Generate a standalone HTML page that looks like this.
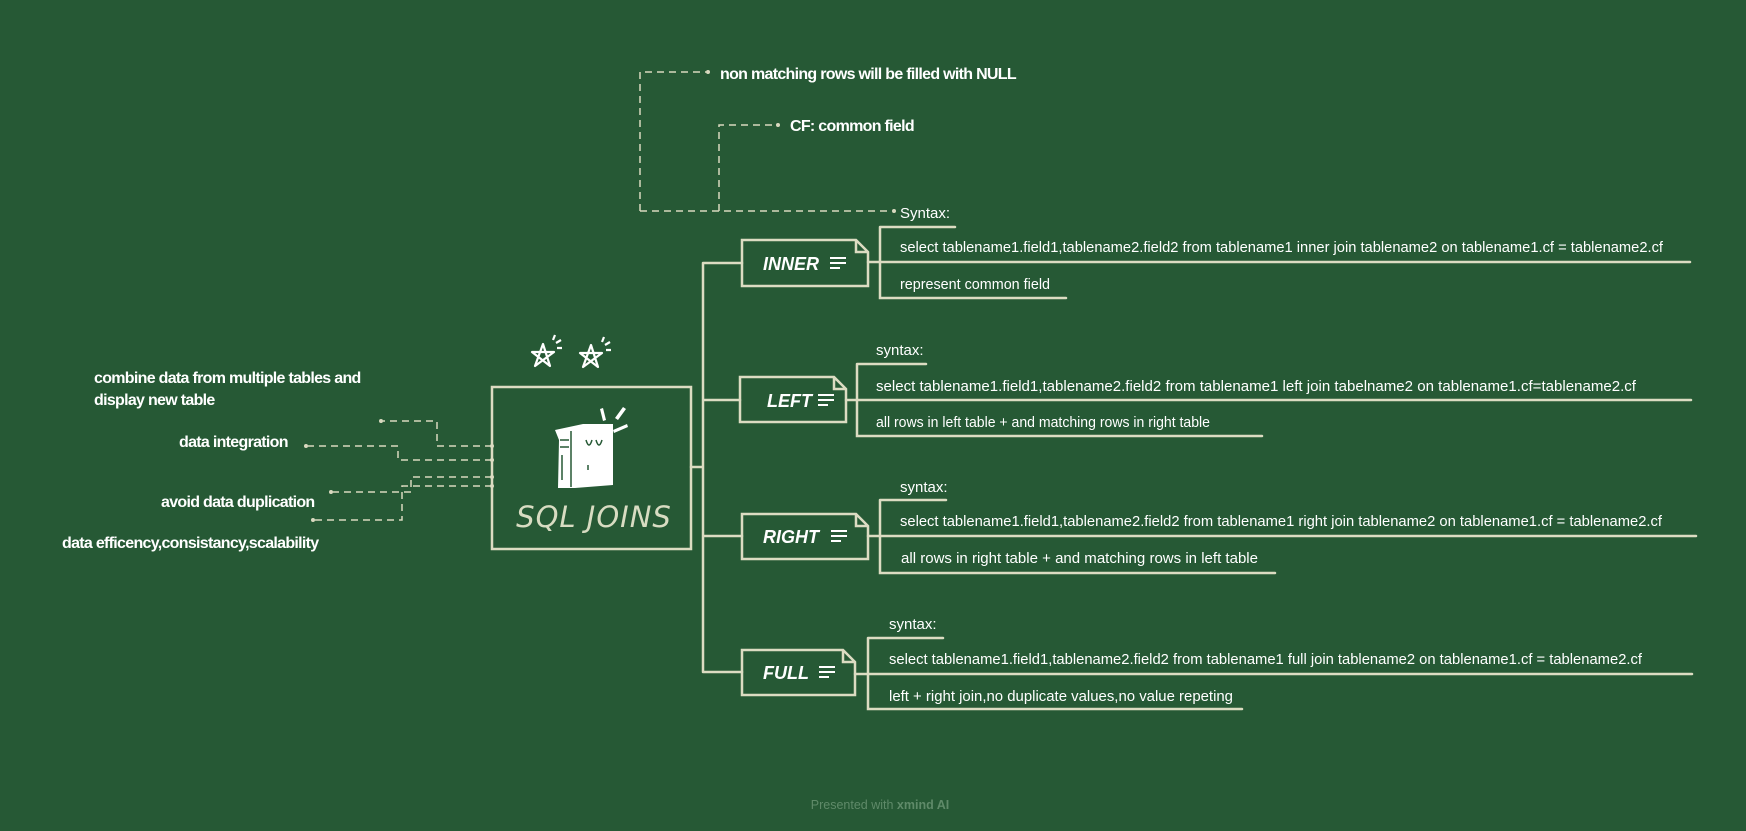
<!DOCTYPE html>
<html><head><meta charset="utf-8"><style>
html,body{margin:0;padding:0;background:#265935;}
svg{display:block}
.t{font-family:"Liberation Sans",sans-serif;fill:#fff;font-size:15px}
.b{font-family:"Liberation Sans",sans-serif;fill:#fff;font-size:16px;font-weight:bold;letter-spacing:-0.7px}
</style></head><body>
<svg width="1746" height="831" viewBox="0 0 1746 831" xmlns="http://www.w3.org/2000/svg">
<rect width="1746" height="831" fill="#265935"/>
<g fill="none" stroke="#d9d9bf" stroke-width="1.5" stroke-dasharray="7,5">
<path d="M640 211 V72 H706"/>
<path d="M719 211 V125 H776"/>
<path d="M640 211 H892"/>
<path d="M492 446 H437 V421 H383"/>
<path d="M492 460 H398 V446 H308"/>
<path d="M492 477 H411 V492 H333"/>
<path d="M492 486 H402 V520 H315"/>
</g>
<g fill="#d9d9bf">
<circle cx="708" cy="72" r="2"/><circle cx="778" cy="125" r="2"/><circle cx="894" cy="211" r="2"/>
<circle cx="381" cy="421" r="2"/><circle cx="306" cy="446" r="2"/><circle cx="331" cy="492" r="2"/><circle cx="313" cy="520" r="2"/>
<circle cx="492" cy="446" r="2"/><circle cx="492" cy="460" r="2"/><circle cx="492" cy="477" r="2"/><circle cx="492" cy="486" r="2"/>
</g>
<text class="b" x="720" y="79">non matching rows will be filled with NULL</text>
<text class="b" x="790" y="131">CF: common field</text>
<text class="b" x="94" y="383">combine data from multiple tables and</text>
<text class="b" x="94" y="405">display new table</text>
<text class="b" x="179" y="447">data integration</text>
<text class="b" x="161" y="507">avoid data duplication</text>
<text class="b" x="62" y="548">data efficency,consistancy,scalability</text>

<g fill="none" stroke="#dcdcc2" stroke-width="2.5" stroke-linecap="round">
<rect x="492" y="387" width="199" height="162"/>
<path d="M691 467 H703 M703 263 V672 M703 263 H742 M703 400 H740 M703 536 H742 M703 672 H742"/>
<path d="M742 240 H856 L868 252 V286 H742 Z M856 240 V252 H868"/>
<path d="M740 377 H834 L846 389 V422 H740 Z M834 377 V389 H846"/>
<path d="M742 514 H856 L868 526 V559 H742 Z M856 514 V526 H868"/>
<path d="M742 650 H843 L855 662 V695 H742 Z M843 650 V662 H855"/>
<path d="M868 262 H1690 M880 227 H955 M880 227 V298 H1066"/>
<path d="M846 400 H1691 M857 364 H926 M857 364 V436 H1262"/>
<path d="M868 536 H1696 M880 500 H946 M880 500 V573 H1275"/>
<path d="M855 674 H1692 M868 638 H943 M868 638 V709 H1242"/>
</g>
<text x="763" y="270" class="t" style="font-size:18px;font-style:italic;font-weight:bold">INNER</text>
<text x="767" y="407" class="t" style="font-size:18px;font-style:italic;font-weight:bold">LEFT</text>
<text x="763" y="543" class="t" style="font-size:18px;font-style:italic;font-weight:bold">RIGHT</text>
<text x="763" y="679" class="t" style="font-size:18px;font-style:italic;font-weight:bold">FULL</text>
<g stroke="#fff" stroke-width="2">
<path d="M830 258 H846 M830 263 H846 M830 268 H840"/>
<path d="M818 395 H834 M818 400 H834 M818 405 H828"/>
<path d="M831 531 H847 M831 536 H847 M831 541 H841"/>
<path d="M819 667 H835 M819 672 H835 M819 677 H829"/>
</g>
<text class="t" x="900" y="218">Syntax:</text>
<text class="t" x="900" y="252" textLength="763" lengthAdjust="spacingAndGlyphs">select tablename1.field1,tablename2.field2 from tablename1 inner join tablename2 on tablename1.cf = tablename2.cf</text>
<text class="t" x="900" y="289" textLength="150" lengthAdjust="spacingAndGlyphs">represent common field</text>
<text class="t" x="876" y="355">syntax:</text>
<text class="t" x="876" y="391" textLength="760" lengthAdjust="spacingAndGlyphs">select tablename1.field1,tablename2.field2 from tablename1 left join tabelname2 on tablename1.cf=tablename2.cf</text>
<text class="t" x="876" y="427" textLength="334" lengthAdjust="spacingAndGlyphs">all rows in left table + and matching rows in right table</text>
<text class="t" x="900" y="492">syntax:</text>
<text class="t" x="900" y="526" textLength="762" lengthAdjust="spacingAndGlyphs">select tablename1.field1,tablename2.field2 from tablename1 right join tablename2 on tablename1.cf = tablename2.cf</text>
<text class="t" x="901" y="563" textLength="357" lengthAdjust="spacingAndGlyphs">all rows in right table + and matching rows in left table</text>
<text class="t" x="889" y="629">syntax:</text>
<text class="t" x="889" y="664" textLength="753" lengthAdjust="spacingAndGlyphs">select tablename1.field1,tablename2.field2 from tablename1 full join tablename2 on tablename1.cf = tablename2.cf</text>
<text class="t" x="889" y="701" textLength="344" lengthAdjust="spacingAndGlyphs">left + right join,no duplicate values,no value repeting</text>

<g fill="none" stroke="#fff" stroke-width="2.2" stroke-linejoin="round">
<path d="M535 366 L543 344 L550 366 L532 352 L554 352 Z"/>
<path d="M583 367 L591 345 L598 367 L580 353 L602 353 Z"/>
<path d="M553 340 l2 -5 M556 343 l5 -3 M557 348 l5 0 M602 342 l2 -5 M605 345 l5 -3 M606 350 l5 0"/>
</g>
<g fill="#fff">
<path d="M555 430 L583 424 L613 424 L613 485 L575 488 L558 488 L559 440 Z"/>
<path d="M603 408 l3 12 l-3 1 l-3 -12 Z M615 418 l8 -11 l3 2 l-8 11 Z M613 430 l14 -6 l1 3 l-14 6 Z"/>
</g>
<g fill="none" stroke="#265935" stroke-width="1.5">
<path d="M571 431 V487 M560 440 H569 M560 447 H569 M562 455 V480 M586 440 q3 10 6 0 M596 440 q3 10 6 0"/>
<path d="M588 465 v5"/>
</g>
<text x="594" y="527" text-anchor="middle" style="font-family:'DejaVu Sans',sans-serif;font-size:29px;font-style:italic;fill:#d8dcc2;letter-spacing:1px">SQL JOINS</text>
<text x="880" y="809" text-anchor="middle" style="font-family:'Liberation Sans',sans-serif;font-size:12.5px;fill:#5f8a69">Presented with <tspan font-weight="bold">xmind AI</tspan></text>
</svg>
</body></html>
